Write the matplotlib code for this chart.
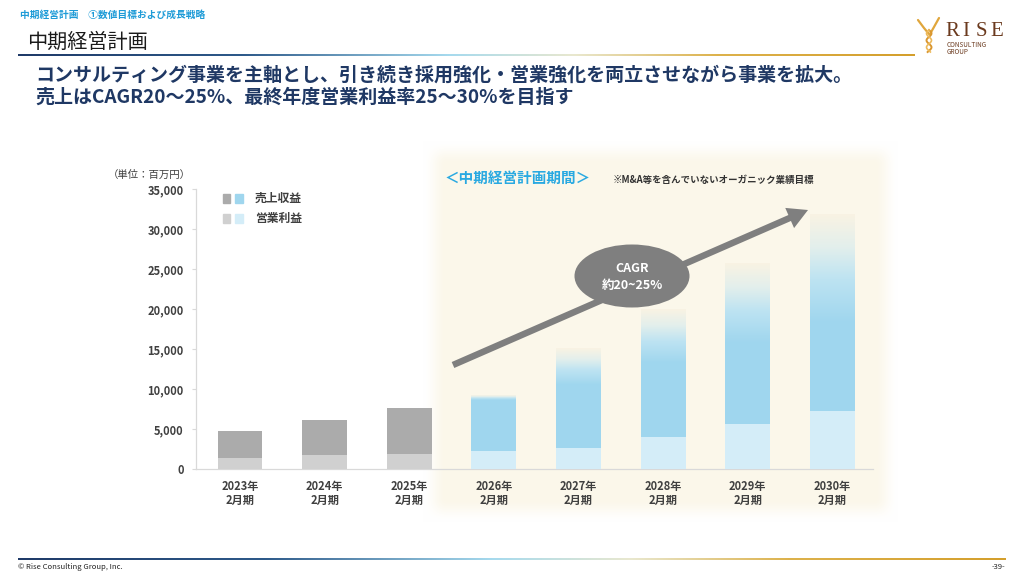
import numpy as np
import matplotlib
matplotlib.use('Agg')
import matplotlib.pyplot as plt
from matplotlib.patches import Ellipse, FancyArrow, Rectangle
from matplotlib.colors import to_rgb

plt.rcParams['font.family'] = ['Noto Sans CJK JP', 'DejaVu Sans']

# ---------------- data ----------------
periods = ['2023年\n2月期', '2024年\n2月期', '2025年\n2月期', '2026年\n2月期',
           '2027年\n2月期', '2028年\n2月期', '2029年\n2月期', '2030年\n2月期']
revenue = [4700, 6080, 7620, 9200, 15100, 19900, 25700, 31750]      # 売上収益
op_profit = [1370, 1750, 1920, 2290, 2670, 4040, 5670, 7250]        # 営業利益
solid_top = [4700, 6080, 7620, 8600, 10500, 13200, 15700, 18200]    # where fade begins
n_actual = 3
yticks = [0, 5000, 10000, 15000, 20000, 25000, 30000, 35000]

W, H = 1024, 576
fig = plt.figure(figsize=(10.24, 5.76), dpi=100)

# ---------------- background image (panel + gradient rules) ----------------
bg = np.ones((H, W, 3))
cream = np.array(to_rgb('#FBF7EA'))
xx = np.arange(W)[None, :]
yy = np.arange(H)[:, None]
def ss(v):
    v = np.clip(v, 0, 1)
    return v * v * (3 - 2 * v)
mask = ss((xx - 422) / 24) * ss((898 - xx) / 24) * ss((yy - 140) / 24) * ss((522 - yy) / 24)
bg = bg * (1 - mask[..., None]) + cream[None, None, :] * mask[..., None]

stops = [(0.0, '#1F3A68'), (0.25, '#2E5A8A'), (0.48, '#A6DAEE'), (0.62, '#E9E8CF'),
         (0.78, '#DDB24C'), (1.0, '#D49F2C')]
def grad_line(x0, x1, y0, y1):
    n = x1 - x0
    t = np.linspace(0, 1, n)
    cols = np.zeros((n, 3))
    for k in range(3):
        cols[:, k] = np.interp(t, [s[0] for s in stops], [to_rgb(s[1])[k] for s in stops])
    bg[y0:y1, x0:x1, :] = cols[None, :, :]
grad_line(18, 915, 54, 56)
grad_line(18, 1006, 558, 560)

bgax = fig.add_axes([0, 0, 1, 1], zorder=-10)
bgax.imshow(bg, extent=[0, W, H, 0], aspect='auto', interpolation='bilinear')
bgax.set_xlim(0, W); bgax.set_ylim(H, 0); bgax.axis('off')

# ---------------- main chart ----------------
ax = fig.add_axes([196 / W, 1 - 469 / H, 677 / W, 280 / H], zorder=1)
ax.patch.set_visible(False)
x = np.arange(len(periods))
bw = 0.53
gray_rev, gray_op = '#ABABAB', '#D0D0D0'
blue_rev, blue_op = '#9FD6EE', '#D4EDF8'
fade_stops = [(0.0, blue_rev), (0.4, '#BDE3F2'), (0.7, '#E3EFEC'), (1.0, '#F9F3E3')]

def fade_image(n=240):
    t = np.linspace(0, 1, n)
    img = np.zeros((n, 1, 3))
    for k in range(3):
        img[:, 0, k] = np.interp(t, [s[0] for s in fade_stops], [to_rgb(s[1])[k] for s in fade_stops])
    return img

for i in range(len(periods)):
    if i < n_actual:
        ax.bar(x[i], revenue[i], bw, color=gray_rev, zorder=2)
        ax.bar(x[i], op_profit[i], bw, color=gray_op, zorder=3)
    else:
        ax.bar(x[i], solid_top[i], bw, color=blue_rev, zorder=2)
        ax.imshow(fade_image(), extent=[x[i] - bw / 2, x[i] + bw / 2, solid_top[i], revenue[i]],
                  origin='lower', aspect='auto', interpolation='bilinear', zorder=2)
        ax.bar(x[i], op_profit[i], bw, color=blue_op, zorder=3)

ax.set_xlim(-0.52, 7.48)
ax.set_ylim(0, 35000)
ax.set_yticks(yticks)
ax.set_yticklabels([f'{v:,}' for v in yticks], fontsize=8, fontweight='bold', color='#404040')
ax.set_xticks(x)
ax.set_xticklabels(periods, fontsize=8, fontweight='bold', color='#404040', linespacing=1.05)
ax.tick_params(axis='y', direction='out', length=3, color='#D9D9D9', pad=6)
ax.tick_params(axis='x', length=0, pad=8)
for s in ['top', 'right']:
    ax.spines[s].set_visible(False)
for s in ['left', 'bottom']:
    ax.spines[s].set_color('#D9D9D9')
    ax.spines[s].set_linewidth(0.9)

# ---------------- overlay (pixel coordinates) ----------------
ov = fig.add_axes([0, 0, 1, 1], zorder=10)
ov.set_xlim(0, W); ov.set_ylim(H, 0); ov.axis('off')
ov.patch.set_alpha(0)

# header texts
ov.text(20, 15, '中期経営計画　①数値目標および成長戦略', fontsize=7, fontweight='bold',
        color='#1E9BD7', va='center', ha='left')
ov.text(27, 42, '中期経営計画', fontsize=14.5, color='#1A1A1A', va='center', ha='left')
ov.text(35, 75, 'コンサルティング事業を主軸とし、引き続き採用強化・営業強化を両立させながら事業を拡大。',
        fontsize=13.7, fontweight='bold', color='#1F3864', va='center', ha='left')
ov.text(35, 97, '売上はCAGR20～25%、最終年度営業利益率25～30%を目指す',
        fontsize=13.7, fontweight='bold', color='#1F3864', va='center', ha='left')

# logo
for lx, ch in zip([945, 962, 976, 990], 'RISE'):
    ov.text(lx, 31, ch, fontsize=15, family='Liberation Serif', color='#6B3A1E',
            va='center', ha='left')
ov.text(947, 45, 'CONSULTING', fontsize=4.6, color='#6B3A1E', va='center', ha='left')
ov.text(947, 52, 'GROUP', fontsize=4.6, color='#6B3A1E', va='center', ha='left')
ov.plot([918, 924, 929], [20, 28, 34], color='#E0A63C', lw=1.6, solid_capstyle='round')
ov.plot([939, 934, 930], [18, 27, 34], color='#E0A63C', lw=1.6, solid_capstyle='round')
yy_s = np.linspace(30, 52, 40)
ov.plot(929 + 2.5 * np.sin((yy_s - 30) / 2.2), yy_s, color='#D9962E', lw=1.4)
ov.plot(929 - 2.5 * np.sin((yy_s - 30) / 2.2), yy_s, color='#EDB95A', lw=1.2)

# footer
ov.text(18, 567, '© Rise Consulting Group, Inc.', fontsize=5.5, color='#222222', va='center', ha='left')
ov.text(1005, 567, '-39-', fontsize=5.5, color='#222222', va='center', ha='right')

# unit label
ov.text(191, 175, '（単位：百万円）', fontsize=7.5, color='#404040', va='center', ha='right')

# legend
for (c1, c2, yc, lab) in [(gray_rev, blue_rev, 198.5, '売上収益'), (gray_op, blue_op, 218.5, '営業利益')]:
    ov.add_patch(Rectangle((222.5, yc - 4.2), 7.5, 8.4, color=c1, zorder=5))
    ov.add_patch(Rectangle((235, yc - 4.2), 7.5, 8.4, color=c2, zorder=5))
    ov.text(255, yc, lab, fontsize=8.5, fontweight='bold', color='#404040', va='center', ha='left')

# period header
ov.text(445, 178, '＜中期経営計画期間＞', fontsize=10.5, fontweight='bold', color='#29A9E1',
        va='center', ha='left')
ov.text(613, 180, '※M&A等を含んでいないオーガニック業績目標', fontsize=6.8, fontweight='bold',
        color='#333333', va='center', ha='left')

# CAGR arrow + ellipse
ov.add_patch(FancyArrow(453, 365, 808 - 453, 210 - 365, width=6.5, head_width=22,
                        head_length=20, length_includes_head=True, color='#7F7F7F', lw=0, zorder=6))
ov.add_patch(Ellipse((632, 276), 115, 63, color='#7F7F7F', lw=0, zorder=7))
ov.text(632, 268, 'CAGR', fontsize=9, fontweight='bold', color='white', ha='center', va='center', zorder=8)
ov.text(632, 285, '約20~25%', fontsize=9, fontweight='bold', color='white', ha='center', va='center', zorder=8)

fig.savefig('out.png', dpi=100)
